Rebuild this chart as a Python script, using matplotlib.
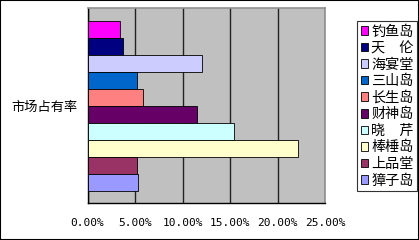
import matplotlib
matplotlib.use("Agg")
import matplotlib.pyplot as plt
from matplotlib.patches import Rectangle

plt.rcParams['font.family'] = ['Noto Sans CJK SC', 'DejaVu Sans']

names = ["钓鱼岛", "天　伦", "海宴堂", "三山岛", "长生岛", "财神岛", "晓　芹", "棒棰岛", "上品堂", "獐子岛"]
shares = [3.4, 3.7, 12.1, 5.2, 5.85, 11.5, 15.4, 22.2, 5.2, 5.3]
colors = ["#FF00FF", "#000080", "#CCCCFF", "#0066CC", "#FF8080",
          "#660066", "#CCFFFF", "#FFFFCC", "#993366", "#9999FF"]
xticks = [0, 5, 10, 15, 20, 25]
category = "市场占有率"

fig = plt.figure(figsize=(4.19, 2.40), dpi=100)
ax = fig.add_axes([87.5/419, 1-203/240, (325-87.5)/419, (203-8)/240])
ax.set_facecolor("#C0C0C0")

for i, (n, v, c) in enumerate(zip(names, shares, colors)):
    ax.barh(i, v, height=1.0, color=c, edgecolor="black", linewidth=0.6, label=n, zorder=3)

ax.set_xlim(0, 25)
ax.set_ylim(9.5 + 0.72, -0.5 - 0.77)
ax.set_xticks(xticks)
ax.set_xticklabels([f"{t:.2f}%" for t in xticks], family="DejaVu Sans Mono", fontsize=8)
ax.tick_params(axis="x", length=0, pad=11)
ax.set_yticks([])
ax.grid(axis="x", color="#222222", linewidth=1.0, zorder=1)
for s in ["top", "right"]:
    ax.spines[s].set_color("#909090")
    ax.spines[s].set_linewidth(1.2)
for s in ["left", "bottom"]:
    ax.spines[s].set_color("black")
    ax.spines[s].set_linewidth(1.0)

fig.text(44/419, 1-107/240, category, ha="center", va="center", fontsize=9.5)

leg = ax.legend(loc="upper left", bbox_to_anchor=(357/419, 1-21/240), bbox_transform=fig.transFigure,
                fontsize=10.2, frameon=True, fancybox=False, edgecolor="black",
                handlelength=0.55, handleheight=0.55, handletextpad=0.2, labelspacing=0.18,
                borderpad=0.25, borderaxespad=0)
leg.get_frame().set_linewidth(0.8)

fig.patches.append(Rectangle((0, 0), 1, 1, transform=fig.transFigure, fill=False,
                             edgecolor="black", linewidth=1.5))
fig.savefig("out.png", dpi=100)
